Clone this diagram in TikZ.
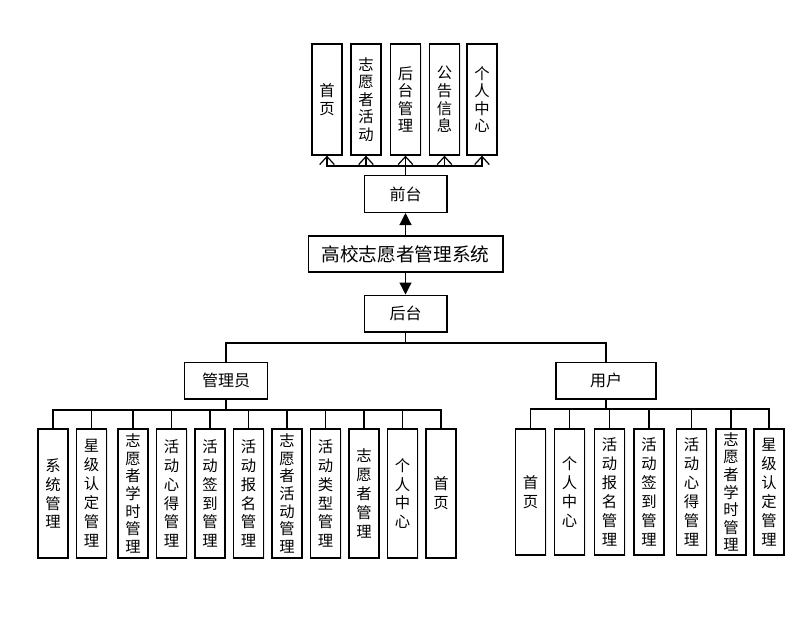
\documentclass[tikz,border=0pt]{standalone}
\usepackage{fontspec}
\setmainfont{Noto Sans CJK SC}
\usetikzlibrary{arrows.meta,shadows}
\begin{document}
\begin{tikzpicture}[x=0.75pt,y=-0.75pt,
  box/.style={draw=black,line width=1pt,fill=white,inner sep=0pt,align=center,
    drop shadow={opacity=0.18,shadow xshift=0.8pt,shadow yshift=-0.8pt}},
  vbox/.style={box,minimum width=22.5pt,font=\fontsize{11.5}{13.2}\selectfont},
  wbox/.style={vbox,font=\fontsize{11.5}{14.2}\selectfont},
  hbox/.style={box,minimum width=62pt,minimum height=27.5pt,font=\fontsize{12}{14}\selectfont},
  conn/.style={draw=black,line width=0.9pt},
  openarr/.style={conn,-{Straight Barb[length=6pt,width=11pt,line width=0.9pt]}},
  fillarr/.style={conn,-{Triangle[length=9pt,width=9pt]}}]
\useasboundingbox (0,0) rectangle (805,617);
% top boxes
\foreach \n/\x/\t in {t1/327/首\\页, t2/366/志\\愿\\者\\活\\动, t3/405.5/后\\台\\管\\理, t4/444.5/公\\告\\信\\息, t5/482/个\\人\\中\\心}
  \node[vbox,minimum height=83.25pt] (\n) at (\x,99.5) {\t};
\node[hbox] (qt) at (405.5,194) {前台};
\node[box,minimum width=146pt,minimum height=27pt,font=\fontsize{14}{16}\selectfont] (sys) at (405.5,254) {高校志愿者管理系统};
\node[hbox] (ht) at (405.5,313.5) {后台};
\node[hbox] (adm) at (226,380.5) {管理员};
\node[box,minimum width=75pt,minimum height=27.5pt,font=\fontsize{12}{14}\selectfont] (usr) at (606,380.5) {用户};
% admin boxes
\foreach \n/\x/\t/\s in {a1/53/系\\统\\管\\理/wbox, a2/91.5/星\\级\\认\\定\\管\\理/wbox, a3/133/志\\愿\\者\\学\\时\\管\\理/vbox,
  a4/171.5/活\\动\\心\\得\\管\\理/wbox, a5/210/活\\动\\签\\到\\管\\理/wbox, a6/248.5/活\\动\\报\\名\\管\\理/wbox,
  a7/287/志\\愿\\者\\活\\动\\管\\理/vbox, a8/325.5/活\\动\\类\\型\\管\\理/wbox, a9/364/志\\愿\\者\\管\\理/wbox,
  a10/402.5/个\\人\\中\\心/wbox, a11/441/首\\页/wbox}
  \node[\s,minimum height=96.75pt] (\n) at (\x,493.5) {\t};
% user boxes
\foreach \n/\x/\t/\s in {u1/530.5/首\\页/wbox, u2/569.5/个\\人\\中\\心/wbox, u3/609.5/活\\动\\报\\名\\管\\理/wbox,
  u4/649/活\\动\\签\\到\\管\\理/wbox, u5/691.5/活\\动\\心\\得\\管\\理/wbox, u6/731/志\\愿\\者\\学\\时\\管\\理/vbox,
  u7/769/星\\级\\认\\定\\管\\理/wbox}
  \node[\s,minimum height=94.5pt] (\n) at (\x,492) {\t};
% bus coordinates
\coordinate (tbus) at (405.5,166);
\coordinate (hbus) at (405.5,343);
\coordinate (abus) at (226,410);
\coordinate (ubus) at (606,409);
% connectors
\draw[conn] (qt.north) -- (tbus);
\foreach \n in {t1,t2,t3,t4,t5} \draw[openarr] (tbus) -| (\n.south);
\draw[fillarr] (sys.north) -- (qt.south);
\draw[fillarr] (sys.south) -- (ht.north);
\draw[conn] (ht.south) -- (hbus);
\draw[conn] (hbus) -| (adm.north);
\draw[conn] (hbus) -| (usr.north);
\draw[conn] (adm.south) -- (abus);
\foreach \n in {a1,a2,a3,a4,a5,a6,a7,a8,a9,a10,a11} \draw[conn] (abus) -| (\n.north);
\draw[conn] (usr.south) -- (ubus);
\foreach \n in {u1,u2,u3,u4,u5,u6,u7} \draw[conn] (ubus) -| (\n.north);
\end{tikzpicture}
\end{document}
